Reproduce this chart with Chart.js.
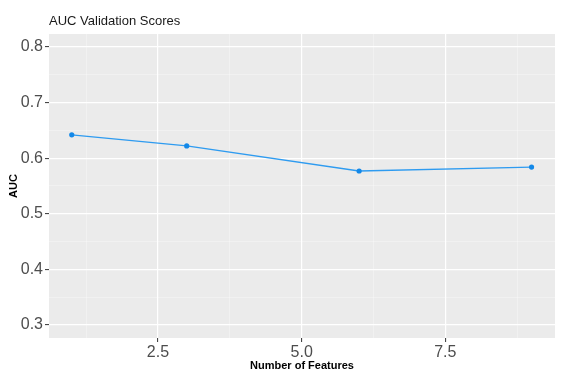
<!DOCTYPE html>
<html>
<head>
<meta charset="utf-8">
<script src="https://cdn.jsdelivr.net/npm/chart.js@4.4.1/dist/chart.umd.min.js"></script>
<style>
  html, body { margin: 0; padding: 0; background: #ffffff; }
  #aucChart { display: block; }
</style>
</head>
<body>
<canvas id="aucChart" width="580" height="385"></canvas>
<script>
// AUC validation scores by number of features
const features = [1, 3, 6, 9];
const aucScores = [0.642, 0.622, 0.577, 0.584];

const xMajorTicks = [2.5, 5.0, 7.5];
const xMinorTicks = [1.25, 3.75, 6.25, 8.75];
const yMajorTicks = [0.3, 0.4, 0.5, 0.6, 0.7, 0.8];
const yMinorTicks = [0.35, 0.45, 0.55, 0.65, 0.75];

const titleText = 'AUC Validation Scores';
const fontFamily = '"Liberation Sans", Arial, Helvetica, sans-serif';

function buildTicks(major, minor) {
  const t = major.map(v => ({ value: v, minor: false }))
    .concat(minor.map(v => ({ value: v, minor: true })));
  return t.sort((a, b) => a.value - b.value);
}

// grey panel + title, ggplot style
const panelPlugin = {
  id: 'panel',
  beforeDraw(chart) {
    const { ctx, chartArea } = chart;
    ctx.save();
    ctx.fillStyle = '#ebebeb';
    ctx.fillRect(chartArea.left, chartArea.top, chartArea.right - chartArea.left, chartArea.bottom - chartArea.top);
    ctx.fillStyle = '#1a1a1a';
    ctx.font = '13px ' + fontFamily;
    ctx.textBaseline = 'middle';
    ctx.textAlign = 'left';
    ctx.fillText(titleText, chartArea.left, 21);
    ctx.restore();
  }
};

const gridColor = ctx => ctx.tick && ctx.tick.minor ? 'rgba(255,255,255,0.55)' : '#ffffff';
const gridWidth = ctx => ctx.tick && ctx.tick.minor ? 0.6 : 1.2;
const tickColor = ctx => ctx.tick && ctx.tick.minor ? 'rgba(0,0,0,0)' : '#333333';

new Chart(document.getElementById('aucChart'), {
  type: 'scatter',
  data: {
    datasets: [{
      label: 'AUC',
      data: features.map((f, i) => ({ x: f, y: aucScores[i] })),
      showLine: true,
      borderColor: '#2e9bf0',
      borderWidth: 1.3,
      backgroundColor: '#1388e8',
      pointBackgroundColor: '#1388e8',
      pointBorderColor: '#1388e8',
      pointRadius: 2.6,
      pointBorderWidth: 0,
      tension: 0
    }]
  },
  options: {
    responsive: false,
    devicePixelRatio: 1,
    animation: false,
    layout: { padding: { top: 34, right: 25, left: 0, bottom: 0 } },
    plugins: {
      legend: { display: false },
      tooltip: { enabled: false }
    },
    scales: {
      x: {
        type: 'linear',
        min: 0.604,
        max: 9.408,
        afterFit: s => { s.height = 47; },
        afterBuildTicks: s => { s.ticks = buildTicks(xMajorTicks, xMinorTicks); },
        border: { display: false },
        grid: { color: gridColor, lineWidth: gridWidth, tickColor: tickColor, tickLength: 4, tickWidth: 1 },
        ticks: {
          autoSkip: false,
          maxRotation: 0,
          padding: 1,
          color: '#4d4d4d',
          font: { family: fontFamily, size: 16 },
          callback: (v, i, ticks) => ticks[i].minor ? '' : v.toFixed(1)
        },
        title: {
          display: true,
          text: 'Number of Features',
          color: '#000000',
          font: { family: fontFamily, size: 11, weight: 'bold' },
          padding: { top: 0, bottom: 12 }
        }
      },
      y: {
        type: 'linear',
        min: 0.2766,
        max: 0.8234,
        afterFit: s => { s.width = 49; },
        afterBuildTicks: s => { s.ticks = buildTicks(yMajorTicks, yMinorTicks); },
        border: { display: false },
        grid: { color: gridColor, lineWidth: gridWidth, tickColor: tickColor, tickLength: 4, tickWidth: 1 },
        ticks: {
          autoSkip: false,
          padding: 2,
          color: '#4d4d4d',
          font: { family: fontFamily, size: 16 },
          callback: (v, i, ticks) => ticks[i].minor ? '' : v.toFixed(1)
        },
        title: {
          display: true,
          text: 'AUC',
          color: '#000000',
          font: { family: fontFamily, size: 11, weight: 'bold' },
          padding: { top: 7, bottom: 0 }
        }
      }
    }
  },
  plugins: [panelPlugin]
});
</script>
</body>
</html>
